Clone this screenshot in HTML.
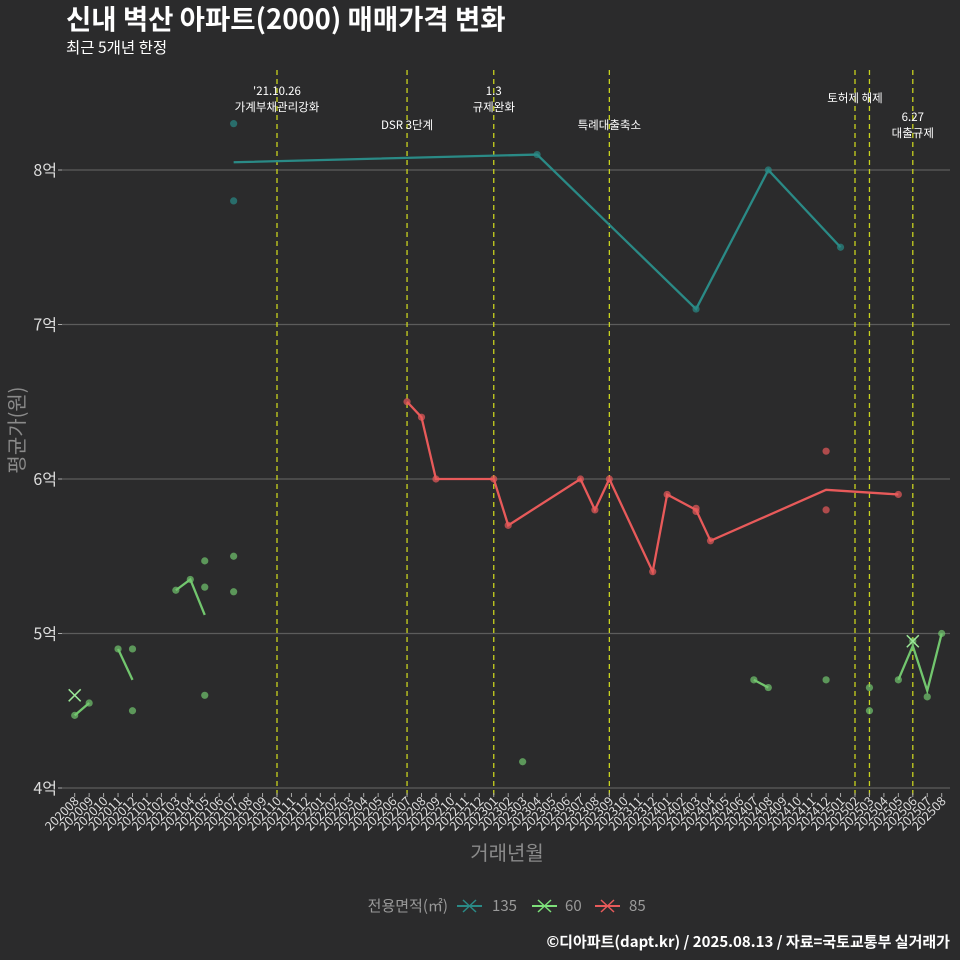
<!DOCTYPE html>
<html><head><meta charset="utf-8">
<style>
body{margin:0;background:#2b2b2c;}
svg{display:block;font-family:"Noto Sans CJK KR","Liberation Sans",sans-serif;}
</style></head>
<body>
<svg id="chart" width="960" height="960" viewBox="0 0 960 960">
<rect width="960" height="960" fill="#2b2b2c"/>
<text x="66" y="29" fill="#ffffff" font-size="27.5" font-weight="bold">신내 벽산 아파트(2000) 매매가격 변화</text>
<text x="66" y="53" fill="#ffffff" font-size="15.5">최근 5개년 한정</text>
<text transform="translate(24,430) rotate(-90)" text-anchor="middle" fill="#8a8a8a" font-size="20">평균가(원)</text>
<text x="507" y="860" text-anchor="middle" fill="#8a8a8a" font-size="20">거래년월</text>
<g id="grid"></g><g id="vlines"></g><g id="ticks"></g><g id="marks"></g><g id="annots"></g>
<g font-size="15">
<text x="448" y="911" text-anchor="end" fill="#9a9a9a">전용면적(㎡)</text>
<g><line x1="457" y1="906" x2="482" y2="906" stroke="#2a8a86" stroke-width="2"/><path d="M463 900L476 912M476 900L463 912" stroke="#2a8a86" stroke-width="1.5"/><text x="492" y="911" fill="#9a9a9a">135</text></g>
<g><line x1="532" y1="906" x2="557" y2="906" stroke="#7de07a" stroke-width="2"/><path d="M538 900L551 912M551 900L538 912" stroke="#7de07a" stroke-width="1.5"/><text x="565" y="911" fill="#9a9a9a">60</text></g>
<g><line x1="595" y1="906" x2="620" y2="906" stroke="#e85a5a" stroke-width="2"/><path d="M601 900L614 912M614 900L601 912" stroke="#e85a5a" stroke-width="1.5"/><text x="629" y="911" fill="#9a9a9a">85</text></g>
</g>
<text x="950" y="947" text-anchor="end" fill="#ffffff" font-size="15" font-weight="bold">©디아파트(dapt.kr) / 2025.08.13 / 자료=국토교통부 실거래가</text>
</svg>
<script>
const months=[];for(let y=2020,m=8;!(y===2025&&m===9);){months.push(String(y)+String(m).padStart(2,'0'));m++;if(m>12){m=1;y++;}}
const yTicks=[4,5,6,7,8];
const yTickLabels=['4억','5억','6억','7억','8억'];
const eventMonths=['202110','202207','202301','202309','202502','202503','202506'];
const annotations=[['202110',['\'21.10.26','가계부채관리강화'],95],['202207',['DSR 3단계'],129],['202301',['1.3','규제완화'],95],['202309',['특례대출축소'],129],['202502',['토허제 해제'],102],['202506',['6.27','대출규제'],121]];
// series 135
const lines135=[[['202107',8.05],['202304',8.1],['202403',7.1],['202408',8.0],['202501',7.5]]];
const pts135=[['202107',8.3],['202107',7.8],['202304',8.1],['202403',7.1],['202408',8.0],['202501',7.5]];
// series 85
const lines85=[[['202207',6.5],['202208',6.4],['202209',6.0],['202301',6.0],['202302',5.7],['202307',6.0],['202308',5.8],['202309',6.0],['202312',5.4],['202401',5.9],['202403',5.8],['202404',5.6],['202412',5.93],['202505',5.9]]];
const pts85=[['202207',6.5],['202208',6.4],['202209',6.0],['202301',6.0],['202302',5.7],['202307',6.0],['202308',5.8],['202309',6.0],['202312',5.4],['202401',5.9],['202403',5.81],['202403',5.79],['202404',5.6],['202412',6.18],['202412',5.8],['202505',5.9]];
// series 60
const lines60=[[['202008',4.47],['202009',4.55]],[['202011',4.9],['202012',4.7]],[['202103',5.28],['202104',5.35],['202105',5.12]],[['202407',4.7],['202408',4.65]],[['202505',4.7],['202506',4.92],['202507',4.63],['202508',5.0]]];
const pts60=[['202008',4.47],['202009',4.55],['202011',4.9],['202012',4.9],['202012',4.5],['202103',5.28],['202104',5.35],['202105',5.47],['202105',5.3],['202105',4.6],['202107',5.5],['202107',5.27],['202303',4.17],['202407',4.7],['202408',4.65],['202412',4.7],['202503',4.65],['202503',4.5],['202505',4.7],['202506',4.95],['202507',4.59],['202508',5.0]];
const crosses60=[['202008',4.6],['202506',4.95]];

const NS='http://www.w3.org/2000/svg';
const xS=m=>74.7+months.indexOf(m)*14.45;
const yS=v=>788-(v-4)*154.5;
function mk(tag,attrs,parent){const e=document.createElementNS(NS,tag);for(const k in attrs)e.setAttribute(k,attrs[k]);parent.appendChild(e);return e;}
const grid=document.getElementById('grid'),vl=document.getElementById('vlines'),tk=document.getElementById('ticks'),mg=document.getElementById('marks'),an=document.getElementById('annots');
yTicks.forEach((v,i)=>{
 const l=mk('line',{x1:62,x2:950,y1:yS(v),y2:yS(v),stroke:'#5c5c5c','stroke-width':1.2},grid);
 
 
 mk('line',{x1:58,x2:62,y1:yS(v),y2:yS(v),stroke:'#aaa'},grid);
 const t=mk('text',{x:57,y:yS(v)+6,'text-anchor':'end',fill:'#dddddd','font-size':16},grid);t.textContent=yTickLabels[i];
 
 
});
months.forEach(m=>{
 const x=xS(m);
 mk('line',{x1:x,x2:x,y1:793,y2:797,stroke:'#aaa'},tk);
 const t=mk('text',{transform:`translate(${x+5},${802}) rotate(-45)`,'text-anchor':'end',fill:'#dddddd','font-size':12.5},tk);t.textContent=m;
 
 
});
eventMonths.forEach(m=>{
 const l=mk('line',{x1:xS(m),x2:xS(m),y1:70,y2:797,stroke:'#c8d21e','stroke-width':1.3,'stroke-dasharray':'5,4'},vl);
 
 
});
annotations.forEach(([m,lines,y0])=>{
 lines.forEach((s,i)=>{const t=mk('text',{x:xS(m),y:y0+i*16,'text-anchor':'middle',fill:'#ffffff','font-size':11.5},an);t.textContent=s;
 
 });
});
function series(lines,pts,col,name){
 lines.forEach(seg=>{const p=mk('polyline',{points:seg.map(d=>xS(d[0])+','+yS(d[1])).join(' '),fill:'none',stroke:col,'stroke-width':2.3},mg);
 
 });
 pts.forEach(d=>{const c=mk('circle',{cx:xS(d[0]),cy:yS(d[1]),r:3.6,fill:col,'fill-opacity':0.7},mg);
 
 });
}
series(lines135,pts135,'#2a8a86','135');
series(lines85,pts85,'#e85a5a','85');
series(lines60,pts60,'#72c66e','60');
crosses60.forEach(d=>{const x=xS(d[0]),y=yS(d[1]);
 const p=mk('path',{d:`M${x-6} ${y-6}L${x+6} ${y+6}M${x+6} ${y-6}L${x-6} ${y+6}`,stroke:'#9be898','stroke-width':1.5},mg);
 
 });
</script>
</body></html>
